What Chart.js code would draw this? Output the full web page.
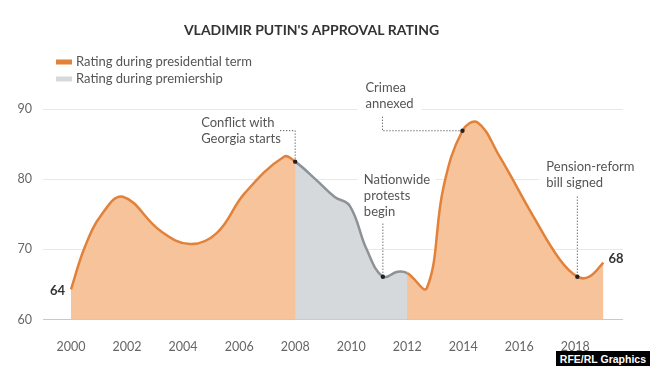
<!DOCTYPE html>
<html>
<head>
<meta charset="utf-8">
<title>Vladimir Putin's approval rating</title>
<script src="https://cdn.jsdelivr.net/npm/chart.js@4.4.1/dist/chart.umd.min.js"></script>
<style>
  html, body { margin: 0; padding: 0; background: #fff; }
  #wrap { position: relative; width: 650px; height: 366px; overflow: hidden; }
  #credit {
    position: absolute; right: 0; top: 351px; height: 20px; padding: 0 4px;
    background: #000; color: #fff; font: bold 10.5px "Liberation Sans", Arial, sans-serif;
    line-height: 16px; white-space: nowrap;
  }
</style>
</head>
<body>
<div id="wrap">
  <canvas id="chart" width="650" height="366"></canvas>
  <div id="credit">RFE/RL Graphics</div>
</div>
<script>
// first presidential stretch, 2000 - 2008
const termYears1 = [2000, 2000.5, 2001.1, 2001.85, 2003.2, 2004.25, 2005.2, 2006.2, 2007.6, 2008];
const termValues1 = [64.3, 70.4, 75, 77.5, 72.6, 70.75, 72.3, 78, 83.2, 82.5];

// premiership, 2008 - 2012
const premierYears = [2008, 2008.75, 2009.4, 2009.95, 2010.55, 2011.13, 2011.65, 2012];
const premierValues = [82.5, 79.9, 77.5, 76.2, 70, 66.1, 66.8, 66.6];

// second presidential stretch, 2012 - 2019
const termYears2 = [2012, 2012.7, 2013.3, 2013.97, 2014.5, 2015.3, 2016.5, 2017.45, 2018.07, 2018.5, 2019];
const termValues2 = [66.6, 64.5, 79, 86.9, 88.1, 83.2, 74.7, 68.5, 66.1, 66.1, 68.1];

const seriesLabels = ['Rating during presidential term', 'Rating during premiership'];
const premierStart = 2008, premierEnd = 2012;
const yTicks = [60, 70, 80, 90];
const xTicks = [2000, 2002, 2004, 2006, 2008, 2010, 2012, 2014, 2016, 2018];

const annotations = [
  { year: 2008, value: 82.5, lines: ['Conflict with', 'Georgia starts'] },
  { year: 2013.97, value: 86.9, lines: ['Crimea', 'annexed'] },
  { year: 2011.13, value: 66.1, lines: ['Nationwide', 'protests', 'begin'] },
  { year: 2018.07, value: 66.1, lines: ['Pension-reform', 'bill signed'] }
];

const ORANGE = '#e2823a';
const ORANGE_FILL = '#f6c39b';
const GREY = '#8d9297';
const GREY_FILL = '#d6d9dc';
const FONT = 'Lato, "Open Sans", sans-serif';

// one continuous series, coloured per segment
const allYears = termYears1.concat(premierYears.slice(1), termYears2.slice(1));
const allValues = termValues1.concat(premierValues.slice(1), termValues2.slice(1));
const allPoints = allYears.map((x, i) => ({ x: x, y: allValues[i] }));

function isPremier(seg) {
  return seg.p0.parsed.x >= premierStart && seg.p1.parsed.x <= premierEnd;
}

// legend, annotations and end labels
const decorations = {
  id: 'decorations',
  beforeDatasetsDraw(chart) {
    const ctx = chart.ctx;
    const xs = chart.scales.x, ys = chart.scales.y;
    ctx.save();
    ctx.font = '13px ' + FONT;
    ctx.textBaseline = 'middle';
    ctx.textAlign = 'left';
    annotationLayouts(xs, ys).forEach(a => {
      let w = 0;
      a.lines.forEach(l => { w = Math.max(w, ctx.measureText(l).width); });
      ctx.fillStyle = '#fff';
      ctx.fillRect(a.tx - a.padL, a.ty - 9, w + a.padL + a.padR, a.lines.length * 16 + 2);
      ctx.fillStyle = '#555';
      a.lines.forEach((l, i) => ctx.fillText(l, a.tx, a.ty + i * 16));
    });
    ctx.restore();
  },
  afterDatasetsDraw(chart) {
    const ctx = chart.ctx;
    const xs = chart.scales.x, ys = chart.scales.y;
    ctx.save();
    ctx.strokeStyle = '#333';
    ctx.lineWidth = 1;
    ctx.setLineDash([1, 2]);
    annotationLayouts(xs, ys).forEach(a => {
      ctx.beginPath();
      a.path.forEach((p, i) => i ? ctx.lineTo(p[0], p[1]) : ctx.moveTo(p[0], p[1]));
      ctx.stroke();
    });
    ctx.setLineDash([]);
    ctx.fillStyle = '#222';
    annotations.forEach(a => {
      ctx.beginPath();
      ctx.arc(xs.getPixelForValue(a.year), ys.getPixelForValue(a.value), 2.2, 0, Math.PI * 2);
      ctx.fill();
    });

    // first and last values
    ctx.font = 'bold 13px ' + FONT;
    ctx.fillStyle = '#333';
    ctx.textBaseline = 'middle';
    const n = allYears.length - 1;
    ctx.textAlign = 'right';
    ctx.fillText(String(Math.round(allValues[0])), xs.getPixelForValue(allYears[0]) - 6, ys.getPixelForValue(allValues[0]) + 1);
    ctx.textAlign = 'left';
    ctx.fillText(String(Math.round(allValues[n])), xs.getPixelForValue(allYears[n]) + 5, ys.getPixelForValue(allValues[n]) - 4);

    // legend
    ctx.font = '13px ' + FONT;
    [ORANGE, GREY_FILL].forEach((c, i) => {
      const y = 62 + i * 17;
      ctx.fillStyle = c;
      ctx.fillRect(56, y - 2.5, 16, 5);
      ctx.fillStyle = '#555';
      ctx.fillText(seriesLabels[i], 76, y);
    });
    ctx.restore();
  }
};

function annotationLayouts(xs, ys) {
  const out = [];
  annotations.forEach((a, k) => {
    const ax = xs.getPixelForValue(a.year);
    const ay = ys.getPixelForValue(a.value);
    if (k === 0) {
      out.push({ lines: a.lines, tx: ax - 94, ty: ay - 39, padL: 4, padR: 4,
        path: [[ax - 15, ay - 31], [ax, ay - 31], [ax, ay]] });
    } else if (k === 1) {
      out.push({ lines: a.lines, tx: ax - 97, ty: ay - 43, padL: 8, padR: 8,
        path: [[ax - 80, ay - 14], [ax - 80, ay], [ax, ay]] });
    } else if (k === 2) {
      out.push({ lines: a.lines, tx: ax - 19, ty: ay - 97, padL: 6, padR: 6,
        path: [[ax, ay - 53], [ax, ay]] });
    } else {
      out.push({ lines: a.lines, tx: ax - 31, ty: ay - 110, padL: 7, padR: 10,
        path: [[ax, ay - 80], [ax, ay]] });
    }
  });
  return out;
}

const ctx = document.getElementById('chart').getContext('2d');
const chart = new Chart(ctx, {
  type: 'line',
  data: {
    datasets: [
      {
        // drawn last: the line itself and the grey premiership area
        label: seriesLabels[1],
        data: allPoints,
        borderColor: ORANGE,
        backgroundColor: 'rgba(0,0,0,0)',
        borderWidth: 2.5,
        fill: 'start',
        pointRadius: 0,
        tension: 0.4,
        segment: {
          borderColor: s => isPremier(s) ? GREY : ORANGE,
          backgroundColor: s => isPremier(s) ? GREY_FILL : 'rgba(0,0,0,0)'
        }
      },
      {
        // drawn first: the orange area under the whole curve
        label: seriesLabels[0],
        data: allPoints,
        borderWidth: 0,
        borderColor: 'rgba(0,0,0,0)',
        backgroundColor: ORANGE_FILL,
        fill: 'start',
        pointRadius: 0,
        tension: 0.4
      }
    ]
  },
  options: {
    responsive: false,
    animation: false,
    layout: { padding: { top: 0, right: 27, left: 0, bottom: 0 } },
    plugins: {
      legend: { display: false },
      tooltip: { enabled: false },
      title: {
        display: true,
        text: "VLADIMIR PUTIN'S APPROVAL RATING",
        color: '#333',
        font: { family: FONT, size: 14, weight: 'bold' },
        padding: { top: 22, bottom: 70.2 }
      }
    },
    scales: {
      x: {
        type: 'linear',
        min: 1999,
        max: 2019.7,
        grid: { display: false },
        border: { display: false },
        afterBuildTicks: s => { s.ticks = xTicks.map(v => ({ value: v })); },
        afterFit: s => { s.height = 46.5; },
        ticks: {
          color: '#666',
          font: { family: FONT, size: 12.5 },
          padding: 12,
          maxRotation: 0,
          callback: v => String(v)
        }
      },
      y: {
        min: 60,
        max: 90,
        afterBuildTicks: s => { s.ticks = yTicks.map(v => ({ value: v })); },
        afterFit: s => { s.width = 43; },
        grid: {
          drawTicks: false,
          color: c => c.tick && c.tick.value === 60 ? '#c9c9c9' : '#e8e8e8',
          lineWidth: 1
        },
        border: { display: false },
        ticks: {
          color: '#666',
          font: { family: FONT, size: 12.5 },
          padding: 11
        }
      }
    }
  },
  plugins: [decorations]
});
</script>
</body>
</html>
